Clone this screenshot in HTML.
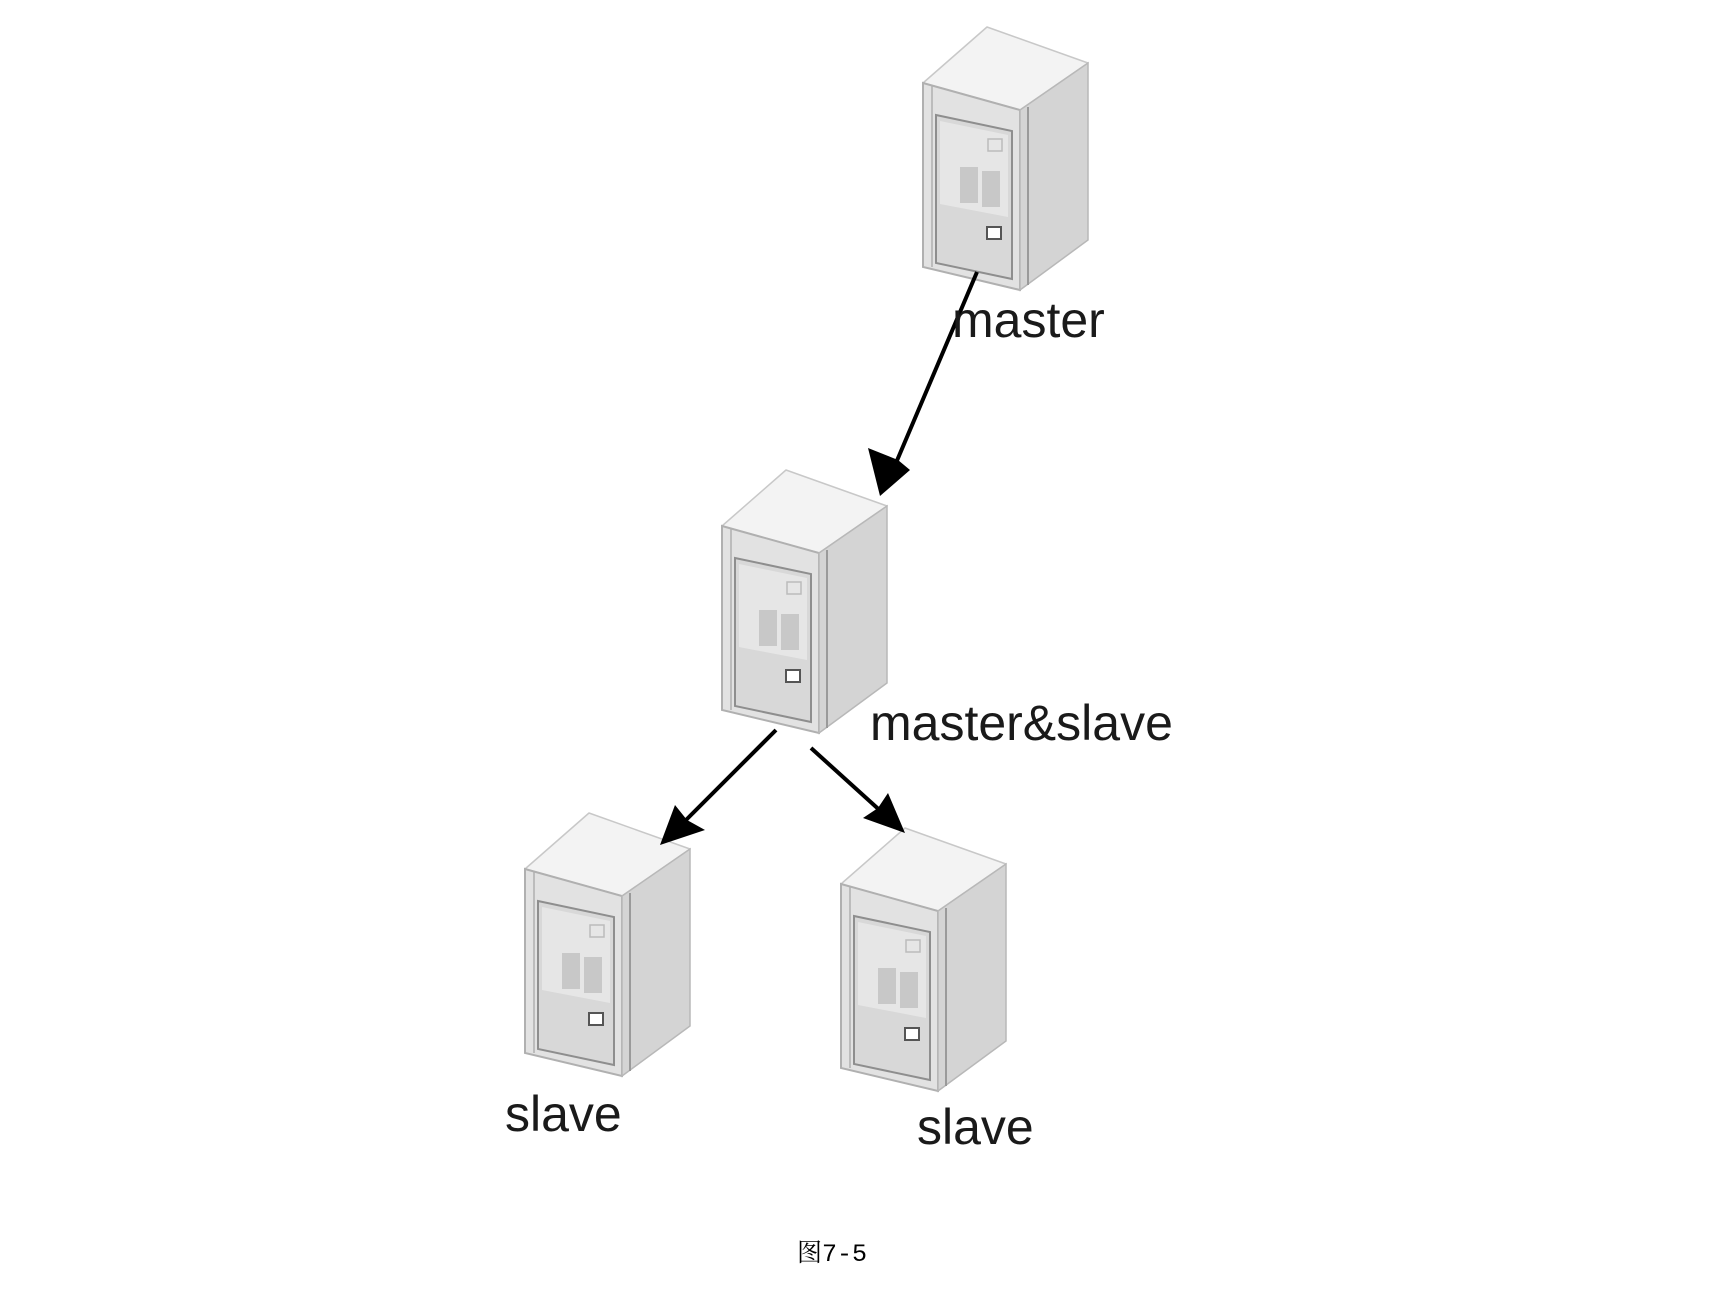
<!DOCTYPE html>
<html><head><meta charset="utf-8"><style>
html,body{margin:0;padding:0;background:#fff}
svg{display:block}
</style></head><body>
<svg width="1736" height="1300" viewBox="0 0 1736 1300" xmlns="http://www.w3.org/2000/svg">
<defs>
<g id="srv">
  <polygon points="5,56 69,0 170,36 102,83" fill="#f3f3f3" stroke="#c8c8c8" stroke-width="1.5" stroke-linejoin="round"/>
  <polygon points="5,56 102,83 102,263 5,240" fill="#e2e2e2" stroke="#b0b0b0" stroke-width="2"/>
  <polygon points="102,83 170,36 170,213 102,263" fill="#d4d4d4" stroke="#b8b8b8" stroke-width="1.5"/>
  <line x1="14" y1="58" x2="14" y2="240" stroke="#b0b0b0" stroke-width="1.5"/>
  <line x1="110" y1="80" x2="110" y2="258" stroke="#9a9a9a" stroke-width="2"/>
  <polygon points="18,88 94,104 94,252 18,236" fill="#d8d8d8" stroke="#8e8e8e" stroke-width="2"/>
  <polygon points="22,94 90,108 90,190 22,177" fill="#e6e6e6"/>
  <rect x="42" y="140" width="18" height="36" fill="#c8c8c8"/>
  <rect x="64" y="144" width="18" height="36" fill="#c8c8c8"/>
  <rect x="70" y="112" width="14" height="12" fill="none" stroke="#bbb" stroke-width="1.5"/>
  <rect x="69" y="200" width="14" height="12" fill="#fff" stroke="#555" stroke-width="2"/>
</g>
</defs>
<use href="#srv" transform="translate(918,27)"/>
<use href="#srv" transform="translate(717,470)"/>
<use href="#srv" transform="translate(520,813)"/>
<use href="#srv" transform="translate(836,828)"/>

<g stroke="#000" stroke-width="4" fill="#000">
  <line x1="977" y1="272" x2="893" y2="470"/>
  <polygon points="880,496 868,448 898,460 910,470" stroke="none"/>
  <line x1="776" y1="730" x2="680" y2="826"/>
  <polygon points="660,845 675,805 687,820 705,830" stroke="none"/>
  <line x1="811" y1="748" x2="885" y2="815"/>
  <polygon points="905,833 863,818 878,808 888,793" stroke="none"/>
</g>

<g font-family="'Liberation Sans', Arial, sans-serif" font-size="50" fill="#1a1a1a">
  <text x="952" y="337">master</text>
  <text x="870" y="740">master&amp;slave</text>
  <text x="505" y="1131">slave</text>
  <text x="917" y="1144">slave</text>
</g>
<text x="832" y="1261" text-anchor="middle" font-family="'Liberation Mono','Noto Serif CJK SC',monospace" font-size="25" fill="#000">图7-5</text>
</svg>
</body></html>
